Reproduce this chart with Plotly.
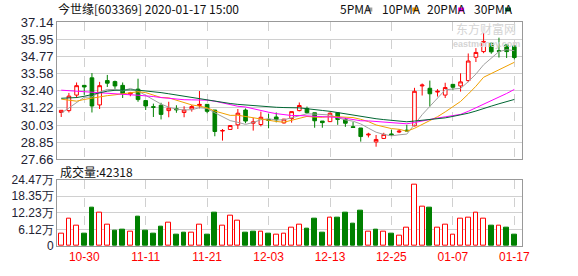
import plotly.graph_objects as go

# ---------------- data ----------------
dates = ["10-25", "10-28", "10-29", "10-30", "10-31", "11-01", "11-04", "11-05", "11-06", "11-07",
         "11-08", "11-11", "11-12", "11-13", "11-14", "11-15", "11-18", "11-19", "11-20", "11-21",
         "11-22", "11-25", "11-26", "11-27", "11-28", "11-29", "12-02", "12-03", "12-04", "12-05",
         "12-06", "12-09", "12-10", "12-11", "12-12", "12-13", "12-16", "12-17", "12-18", "12-19",
         "12-20", "12-23", "12-24", "12-25", "12-26", "12-27", "12-30", "12-31", "01-02", "01-03",
         "01-06", "01-07", "01-08", "01-09", "01-10", "01-13", "01-14", "01-15", "01-16", "01-17"]

opens = [30.90, 31.03, 32.10, 32.77, 33.29, 31.42, 33.10, 33.03, 32.77, 32.17,
         32.51, 31.72, 31.30, 31.40, 31.03, 31.16, 30.90, 31.14, 31.38, 31.46,
         31.07, 29.62, 29.73, 30.05, 31.07, 30.16, 30.07, 30.42, 30.59, 30.18,
         30.48, 31.03, 31.18, 30.88, 30.31, 30.27, 30.88, 30.42, 29.92, 29.83,
         29.35, 28.87, 29.11, 29.42, 29.55, 29.68, 29.98, 32.73, 32.57, 32.31,
         32.10, 32.84, 32.73, 33.10, 34.71, 35.10, 35.67, 35.16, 35.56, 35.49]
highs = [31.07, 32.25, 32.97, 32.77, 33.62, 33.01, 33.49, 33.10, 32.97, 32.32,
         33.23, 31.72, 31.51, 31.57, 31.64, 31.40, 31.33, 31.42, 32.38, 31.46,
         31.07, 29.76, 30.03, 31.14, 31.18, 30.53, 30.96, 30.81, 30.90, 30.46,
         30.96, 31.59, 31.31, 30.88, 30.31, 30.90, 30.92, 30.53, 30.24, 29.83,
         29.50, 29.35, 29.50, 29.72, 29.76, 30.05, 32.60, 32.90, 33.10, 32.51,
         32.95, 32.84, 33.60, 34.97, 35.34, 36.36, 35.73, 36.06, 35.56, 35.49]
lows = [30.59, 30.90, 31.90, 32.12, 30.90, 31.14, 32.66, 32.53, 31.90, 32.02,
        31.64, 31.07, 30.59, 30.42, 30.57, 30.88, 30.57, 30.96, 31.18, 30.85,
        29.26, 28.96, 29.71, 29.76, 30.16, 29.65, 29.94, 29.81, 30.22, 30.14,
        30.20, 30.98, 30.81, 29.85, 29.85, 30.24, 30.05, 29.91, 29.87, 28.89,
        29.18, 28.54, 29.07, 29.29, 29.48, 29.61, 29.94, 32.07, 31.31, 32.00,
        31.90, 32.44, 32.34, 32.99, 34.38, 34.99, 34.95, 34.69, 34.66, 34.56]
closes = [31.05, 32.03, 32.75, 32.66, 31.35, 32.75, 32.92, 32.73, 32.20, 32.24,
          31.79, 31.35, 31.26, 30.77, 31.20, 31.09, 31.07, 31.31, 31.46, 30.98,
          29.59, 29.66, 30.00, 30.85, 30.31, 30.25, 30.57, 30.36, 30.40, 30.44,
          30.96, 31.38, 30.88, 30.33, 30.20, 30.85, 30.42, 30.16, 29.87, 29.24,
          29.40, 29.04, 29.39, 29.37, 29.61, 29.63, 32.36, 32.79, 32.19, 32.36,
          32.62, 32.64, 33.01, 34.45, 35.04, 35.80, 35.08, 35.12, 35.10, 34.69]

ma5 = [30.85, 31.20, 31.60, 31.95, 31.97, 32.31, 32.49, 32.48, 32.39, 32.56,
       32.38, 32.06, 31.77, 31.48, 31.27, 31.13, 31.08, 31.09, 31.23, 31.18,
       30.88, 30.60, 30.34, 30.22, 30.08, 30.21, 30.40, 30.47, 30.38, 30.40,
       30.55, 30.71, 30.81, 30.79, 30.75, 30.73, 30.54, 30.39, 30.30, 30.11,
       29.82, 29.54, 29.39, 29.29, 29.36, 29.41, 30.07, 30.75, 31.32, 31.87,
       32.46, 32.52, 32.56, 33.02, 33.55, 34.19, 34.68, 35.10, 35.23, 35.16]
ma10 = [31.82, 31.74, 31.68, 31.80, 31.90, 32.00, 32.06, 32.12, 32.18, 32.26,
        32.33, 32.27, 32.12, 31.93, 31.91, 31.75, 31.56, 31.42, 31.34, 31.22,
        31.00, 30.83, 30.70, 30.71, 30.62, 30.54, 30.49, 30.40, 30.28, 30.23,
        30.37, 30.54, 30.63, 30.58, 30.57, 30.63, 30.61, 30.59, 30.55, 30.43,
        30.27, 30.04, 29.89, 29.79, 29.74, 29.61, 29.81, 30.07, 30.30, 30.61,
        30.94, 31.30, 31.66, 32.17, 32.71, 33.33, 33.60, 33.83, 34.13, 34.36]
ma20 = [32.44, 32.40, 32.36, 32.31, 32.27, 32.24, 32.21, 32.18, 32.15, 32.12,
        32.09, 32.06, 32.00, 31.93, 31.87, 31.81, 31.78, 31.77, 31.76, 31.75,
        31.68, 31.56, 31.42, 31.33, 31.28, 31.15, 31.03, 30.92, 30.82, 30.73,
        30.69, 30.69, 30.67, 30.65, 30.60, 30.59, 30.56, 30.50, 30.42, 30.33,
        30.32, 30.29, 30.26, 30.19, 30.15, 30.12, 30.21, 30.33, 30.42, 30.52,
        30.60, 30.67, 30.77, 30.98, 31.22, 31.47, 31.70, 31.95, 32.21, 32.49]
ma30 = [31.88, 31.90, 31.93, 32.02, 32.15, 32.28, 32.37, 32.43, 32.46, 32.46,
        32.44, 32.40, 32.34, 32.27, 32.19, 32.10, 32.01, 31.93, 31.85, 31.77,
        31.68, 31.60, 31.52, 31.46, 31.41, 31.36, 31.32, 31.28, 31.26, 31.24,
        31.24, 31.22, 31.16, 31.08, 31.04, 30.98, 30.89, 30.81, 30.73, 30.63,
        30.55, 30.47, 30.41, 30.36, 30.31, 30.26, 30.31, 30.36, 30.38, 30.43,
        30.53, 30.63, 30.73, 30.85, 31.00, 31.19, 31.34, 31.50, 31.66, 31.80]

# volume in 万 (10k)
volume = [4.63, 10.21, 7.36, 4.63, 14.25, 12.35, 7.72, 5.70, 6.06, 5.23,
          10.69, 5.70, 4.63, 7.13, 8.43, 4.28, 4.99, 4.87, 7.72, 4.28,
          12.47, 7.36, 11.28, 9.50, 4.99, 5.34, 5.23, 4.63, 4.16, 4.51,
          6.65, 7.72, 6.41, 9.98, 4.99, 10.57, 10.33, 12.47, 8.19, 13.18,
          5.23, 6.06, 5.23, 4.63, 3.80, 6.65, 22.68, 14.61, 14.25, 6.65,
          7.72, 4.28, 10.21, 10.57, 12.35, 10.21, 7.48, 7.36, 6.65, 4.2318]
volume_up = [1, 1, 1, 0, 0, 1, 1, 0, 0, 1,
             0, 0, 0, 0, 1, 0, 0, 1, 1, 0,
             0, 1, 1, 1, 0, 0, 1, 0, 1, 1,
             1, 1, 0, 0, 0, 1, 0, 0, 0, 0,
             1, 0, 1, 0, 1, 1, 1, 1, 0, 1,
             1, 1, 1, 1, 1, 1, 0, 1, 0, 0]

price_ticks = [27.66, 28.85, 30.03, 31.22, 32.40, 33.58, 34.77, 35.95, 37.14]
price_tick_text = ["27.66", "28.85", "30.03", "31.22", "32.40", "33.58", "34.77", "35.95", "37.14"]
vol_ticks = [0, 6.12, 12.23, 18.35, 24.47]
vol_tick_text = ["0", "6.12万", "12.23万", "18.35万", "24.47万"]
date_ticks = ["10-30", "11-11", "11-21", "12-03", "12-13", "12-25", "01-07", "01-17"]

title_text = "今世缘[603369] 2020-01-17 15:00"
ma_names = ["5PMA", "10PMA", "20PMA", "30PMA"]

# ---------------- styles ----------------
RED = "#ff0000"
GREEN = "#008000"
MA_COLORS = ["#a0a0a0", "#f0a000", "#ff00ff", "#006633"]
GRID = "#d0d0d0"
BORDER = "#999999"
CJK = "Noto Sans CJK SC"
LAT = "Liberation Sans"

W, H = 578, 276
L, R, T, B = 56, 56, 22, 21
PW, PH = W - L - R, H - T - B


def px_x(px):
    return (px - L) / PW


def px_y(py):
    return (H - B - py) / PH


x = list(range(len(dates)))
tick_idx = [dates.index(d) for d in date_ticks]

fig = go.Figure()

fig.add_trace(go.Candlestick(
    x=x, open=opens, high=highs, low=lows, close=closes,
    increasing=dict(line=dict(color=RED, width=1), fillcolor="#ffffff"),
    decreasing=dict(line=dict(color=GREEN, width=1), fillcolor=GREEN),
    whiskerwidth=0, hoverinfo="skip", showlegend=False,
    xaxis="x", yaxis="y",
))

for name, vals, col in zip(ma_names, [ma5, ma10, ma20, ma30], MA_COLORS):
    fig.add_trace(go.Scatter(
        x=x, y=vals, mode="lines", line=dict(color=col, width=1),
        name=name, hoverinfo="skip", showlegend=False, xaxis="x", yaxis="y",
    ))

fig.add_trace(go.Bar(
    x=x, y=volume, width=0.62,
    marker=dict(color=["#ffffff" if u else GREEN for u in volume_up],
                line=dict(color=[RED if u else GREEN for u in volume_up], width=1)),
    hoverinfo="skip", showlegend=False, xaxis="x2", yaxis="y2",
))

xr = [-0.55, 60.0]
axis_common = dict(showline=True, mirror=True, linecolor=BORDER, linewidth=1,
                   zeroline=False, ticks="")

price_dom_bottom = px_y(165)
vol_dom_top = px_y(186)

fig.update_layout(
    width=W, height=H,
    margin=dict(l=L, r=R, t=T, b=B, pad=0),
    paper_bgcolor="#ffffff", plot_bgcolor="#ffffff",
    showlegend=False, boxgap=0.32,
    bargap=0,
    xaxis=dict(domain=[0, 1], anchor="y", range=xr, tickvals=tick_idx,
               showticklabels=False, showgrid=True, gridcolor=GRID, griddash="dash",
               gridwidth=1, rangeslider=dict(visible=False), **axis_common),
    yaxis=dict(domain=[price_dom_bottom, 1], anchor="x", range=[27.66, 37.14],
               tickvals=price_ticks, ticktext=price_tick_text, showgrid=True,
               gridcolor=GRID, gridwidth=1,
               tickfont=dict(family=LAT, size=13, color="#222233"), **axis_common),
    xaxis2=dict(domain=[0, 1], anchor="y2", range=xr, tickvals=tick_idx, ticktext=date_ticks,
                showgrid=True, gridcolor=GRID, griddash="dash", gridwidth=1,
                tickfont=dict(family=LAT, size=12, color=RED), **axis_common),
    yaxis2=dict(domain=[0, vol_dom_top], anchor="x2", range=[0, 24.47],
                tickvals=vol_ticks, ticktext=vol_tick_text, showgrid=True,
                gridcolor=GRID, gridwidth=1,
                tickfont=dict(family=LAT, size=12, color="#222233"), **axis_common),
)

annotations = [
    dict(text=title_text, x=px_x(55), y=px_y(8), xanchor="left", yanchor="middle",
         font=dict(family=CJK, size=12, color="#111111")),
    dict(text="成交量:%d" % round(volume[-1] * 10000), x=px_x(57), y=px_y(177),
         xanchor="left", yanchor="middle", font=dict(family=CJK, size=12, color="#111111")),
    dict(text="东方财富网", x=px_x(486), y=px_y(29), xanchor="center", yanchor="middle",
         font=dict(family=CJK, size=12, color="#d4d4d4")),
    dict(text="<b>eastmoney.com</b>", x=px_x(486), y=px_y(45), xanchor="center", yanchor="middle",
         font=dict(family=LAT, size=9, color="#d4d4d4")),
]
legend_text_x = [338, 380, 425, 472]
legend_dash_x = [366, 412, 458, 505]
shapes = []
for name, col, tx, dx in zip(ma_names, MA_COLORS, legend_text_x, legend_dash_x):
    annotations.append(dict(text=name, x=px_x(tx), y=px_y(8), xanchor="left", yanchor="middle",
                            font=dict(family=CJK, size=12, color="#111111")))
    shapes.append(dict(type="line", xref="paper", yref="paper", x0=px_x(dx), x1=px_x(dx + 6),
                       y0=px_y(9), y1=px_y(9), line=dict(color=col, width=4)))

for a in annotations:
    a.update(xref="paper", yref="paper", showarrow=False)

fig.update_layout(annotations=annotations, shapes=shapes)

fig.write_html("out.html", config={"displayModeBar": False})
